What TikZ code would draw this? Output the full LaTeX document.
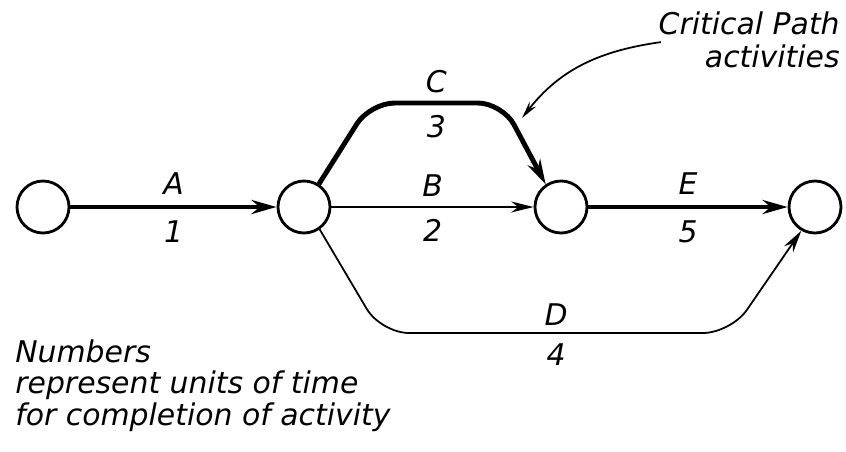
\documentclass[tikz,border=0pt]{standalone}
\usepackage{fontspec}
\setsansfont{DejaVu Sans}
\usepackage{tikz}
\usetikzlibrary{arrows.meta, positioning, calc}

\begin{document}
\begin{tikzpicture}[
    event/.style={
        circle,
        draw,
        line width=1.6pt,
        minimum size=1.04cm,
        inner sep=0pt,
        fill=white
    },
    lbl/.style={
        font=\sffamily\itshape\fontsize{17}{18}\selectfont,
        inner sep=1.5pt
    },
    critical/.style={
        -{Stealth[length=5mm,width=2.8mm]},
        line width=2.8pt,
        rounded corners=14pt
    },
    activity/.style={
        -{Stealth[length=4.5mm,width=2.2mm]},
        line width=1.3pt,
        rounded corners=16pt
    },
    note/.style={
        -{Stealth[length=3.5mm,width=1.6mm]},
        line width=1pt
    }
]

\useasboundingbox[fill=white] (0,0) rectangle (16.92,-9.02);

% Events
\node[event] (start) at (0.86,-4.14) {};
\node[event] (ev2) at (6.08,-4.14) {};
\node[event] (ev3) at (11.22,-4.14) {};
\node[event] (finish) at (16.3,-4.14) {};

% Bends of C and D
\coordinate (cl) at (7.40,-2.06);
\coordinate (cr) at (10.05,-2.06);
\coordinate (dl) at (7.62,-6.66);
\coordinate (dr) at (14.62,-6.66);

% Activities
\draw[critical] (start) -- node[lbl, above=4pt] {A} node[lbl, below=5pt] {1} (ev2);
\draw[critical] (ev2.57) -- (cl) -- node[lbl, above=3pt] {C} node[lbl, below=4pt] {3} (cr) -- (ev3.124);
\draw[activity] (ev2) -- node[lbl, above=4pt] {B} node[lbl, below=5pt] {2} (ev3);
\draw[critical] (ev3) -- node[lbl, above=4pt] {E} node[lbl, below=5pt] {5} (finish);
\draw[activity, line width=1pt] (ev2.-55) -- (dl) -- node[lbl, above=2pt] {D} node[lbl, below=4pt] {4} (dr) -- (finish.-120);

% Notes
\node[lbl, align=right, anchor=north east, inner sep=0pt, font=\sffamily\itshape\fontsize{17}{19}\selectfont] (critnote) at (16.8,-0.22) {Critical Path\\activities};
\coordinate (ctip) at (10.44,-2.36);
\draw[note] ([xshift=0.05cm, yshift=-0.05cm]critnote.west) to[out=188, in=52] (ctip);

\node[lbl, align=left, anchor=north west, inner sep=0pt] (legend) at (0.3,-6.78) {Numbers\\represent units of time\\for completion of activity};

\end{tikzpicture}
\end{document}
